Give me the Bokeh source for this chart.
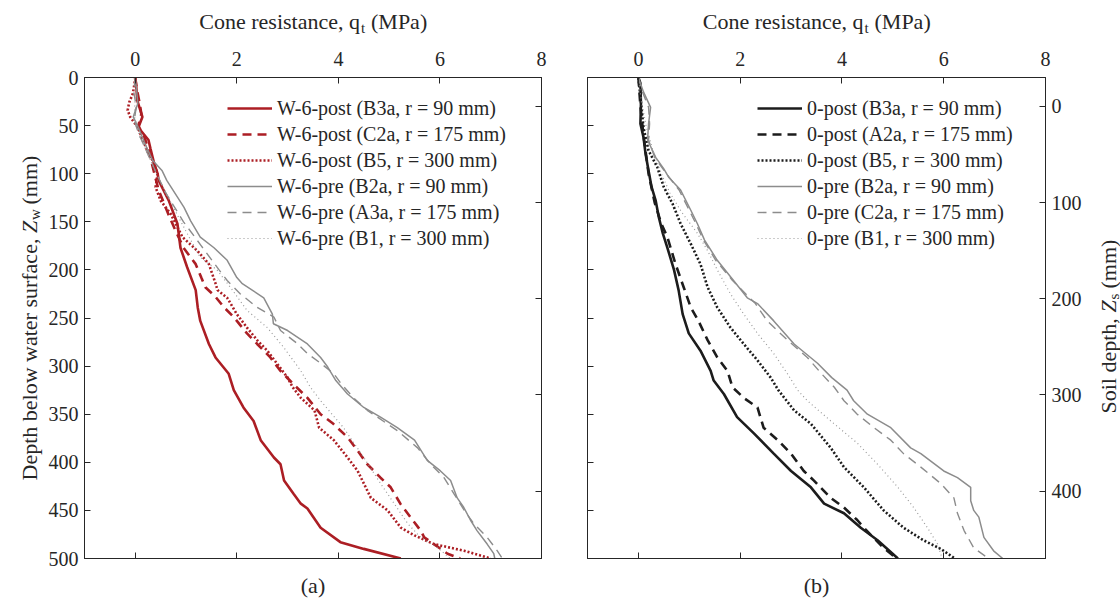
from bokeh.plotting import figure
from bokeh.models import Range1d, LinearAxis, FixedTicker, Label, Legend
from bokeh.layouts import row, column
from bokeh.embed import file_html
from bokeh.resources import INLINE

# ---------------- data (depth below water surface Zw in mm, cone resistance qt in MPa)
wpost_b3a_z = [0, 10, 24, 41, 52, 65, 74, 89, 100, 107, 128, 152, 177, 197, 221, 239, 253, 277, 291, 308, 325, 343, 357, 377, 395, 402, 419, 433, 443, 448, 468, 483, 490, 500]
wpost_b3a_q = [0, 0.02, 0.04, 0.14, 0.06, 0.26, 0.3, 0.37, 0.44, 0.46, 0.66, 0.83, 0.89, 1.02, 1.19, 1.23, 1.28, 1.45, 1.58, 1.84, 1.94, 2.13, 2.33, 2.47, 2.73, 2.86, 2.93, 3.12, 3.26, 3.39, 3.65, 4.04, 4.5, 5.23]

wpost_c2a_z = [0, 12, 25, 38, 50, 62, 75, 90, 105, 117, 142, 160, 177, 194, 208, 218, 228, 239, 249, 266, 277, 291, 305, 318, 333, 350, 360, 374, 388, 402, 416, 426, 443, 457, 471, 478, 485, 495, 500]
wpost_c2a_q = [0, 0.03, 0.08, 0.12, 0.06, 0.18, 0.26, 0.33, 0.4, 0.46, 0.65, 0.8, 0.95, 1.19, 1.3, 1.38, 1.58, 1.75, 1.94, 2.2, 2.4, 2.66, 2.86, 3.1, 3.39, 3.65, 3.9, 4.18, 4.38, 4.57, 4.83, 5.03, 5.22, 5.42, 5.62, 5.69, 5.88, 6.15, 6.4]

wpost_b5_z = [0, 8, 17, 26, 34, 41, 52, 65, 79, 86, 100, 114, 128, 142, 166, 180, 194, 214, 221, 229, 246, 260, 273, 284, 298, 312, 322, 333, 346, 364, 377, 395, 409, 437, 450, 468, 476, 485, 492, 500]
wpost_b5_q = [0, -0.02, -0.05, -0.12, -0.15, -0.1, 0.05, 0.15, 0.26, 0.34, 0.44, 0.4, 0.5, 0.7, 0.93, 1.22, 1.45, 1.58, 1.62, 1.81, 2.0, 2.2, 2.4, 2.6, 2.8, 3.0, 3.1, 3.26, 3.53, 3.62, 3.91, 4.18, 4.38, 4.64, 4.97, 5.23, 5.5, 5.88, 6.48, 7.0]

wpre_b2a_z = [0, 10, 27, 41, 52, 70, 86, 97, 107, 121, 135, 149, 166, 177, 190, 208, 214, 229, 246, 256, 263, 277, 291, 301, 315, 329, 343, 353, 364, 377, 398, 409, 419, 437, 447, 460, 471, 485, 495, 500]
wpre_b2a_q = [0, 0.02, 0.05, -0.04, 0.06, 0.2, 0.34, 0.53, 0.62, 0.79, 0.96, 1.09, 1.28, 1.55, 1.81, 2.0, 2.1, 2.53, 2.7, 2.72, 3.0, 3.39, 3.65, 3.79, 3.95, 4.18, 4.5, 4.83, 5.16, 5.5, 5.75, 6.01, 6.21, 6.34, 6.47, 6.6, 6.73, 6.93, 7.06, 7.08]

wpre_a3a_z = [0, 15, 30, 45, 60, 80, 100, 120, 150, 175, 200, 211, 225, 239, 249, 263, 277, 287, 297, 308, 318, 333, 346, 367, 385, 402, 416, 433, 450, 464, 478, 492, 500]
wpre_a3a_q = [0, -0.03, 0.02, -0.02, 0.08, 0.25, 0.42, 0.6, 0.95, 1.3, 1.65, 1.81, 2.07, 2.4, 2.73, 2.86, 3.2, 3.39, 3.65, 3.91, 4.05, 4.3, 4.57, 5.16, 5.56, 5.82, 6.08, 6.28, 6.48, 6.67, 6.93, 7.13, 7.23]

wpre_b1_z = [0, 20, 40, 60, 80, 100, 120, 140, 160, 187, 200, 220, 242, 260, 281, 305, 322, 336, 364, 395, 422, 443, 464, 478, 489, 500]
wpre_b1_q = [0, 0.0, -0.02, 0.08, 0.25, 0.42, 0.6, 0.8, 1.0, 1.28, 1.61, 1.9, 2.2, 2.6, 2.93, 3.26, 3.45, 3.65, 4.1, 4.5, 4.83, 5.1, 5.37, 5.62, 5.96, 6.2]

zpost_b3a_z = [0, 6, 27, 48, 62, 79, 97, 114, 128, 145, 162, 177, 200, 221, 246, 266, 284, 305, 315, 329, 353, 370, 391, 409, 426, 443, 453, 468, 481, 500]
zpost_b3a_q = [0, 0.04, 0.05, 0.04, 0.1, 0.14, 0.2, 0.26, 0.34, 0.4, 0.48, 0.57, 0.7, 0.79, 0.87, 0.99, 1.22, 1.42, 1.48, 1.68, 1.94, 2.27, 2.66, 3.0, 3.39, 3.65, 4.04, 4.37, 4.7, 5.1]

zpost_a2a_z = [0, 15, 30, 60, 100, 130, 152, 166, 194, 218, 239, 253, 273, 291, 305, 322, 333, 343, 364, 377, 391, 409, 419, 437, 447, 460, 468, 489, 500]
zpost_a2a_q = [0, 0.02, 0.04, 0.1, 0.2, 0.32, 0.45, 0.57, 0.73, 0.89, 1.03, 1.18, 1.36, 1.55, 1.75, 1.85, 2.07, 2.34, 2.46, 2.74, 3.0, 3.25, 3.45, 3.78, 4.04, 4.3, 4.43, 4.82, 5.08]

zpost_b5_z = [0, 20, 52, 76, 93, 114, 131, 152, 173, 194, 218, 239, 260, 277, 294, 312, 325, 346, 360, 385, 405, 426, 450, 468, 481, 490, 500]
zpost_b5_q = [0, 0.04, 0.1, 0.2, 0.37, 0.5, 0.67, 0.83, 1.03, 1.22, 1.36, 1.55, 1.81, 2.07, 2.34, 2.6, 2.75, 3.06, 3.39, 3.78, 4.04, 4.43, 4.82, 5.21, 5.6, 5.94, 6.22]

zpre_b2a_z = [0, 15, 31, 48, 65, 83, 95, 104, 117, 138, 152, 169, 190, 211, 229, 235, 253, 277, 297, 312, 325, 336, 350, 364, 385, 391, 409, 416, 426, 440, 450, 457, 478, 492, 500]
zpre_b2a_q = [0, 0.1, 0.24, 0.2, 0.18, 0.34, 0.5, 0.6, 0.83, 1.03, 1.16, 1.3, 1.55, 1.87, 2.14, 2.34, 2.66, 3.06, 3.52, 3.8, 4.1, 4.23, 4.5, 4.96, 5.35, 5.55, 6.0, 6.27, 6.53, 6.53, 6.59, 6.69, 6.79, 6.98, 7.16]

zpre_c2a_z = [0, 15, 31, 48, 65, 83, 100, 117, 138, 152, 169, 190, 211, 235, 253, 273, 291, 308, 322, 336, 350, 364, 377, 391, 405, 422, 437, 453, 471, 489, 500]
zpre_c2a_q = [0, 0.08, 0.2, 0.22, 0.2, 0.32, 0.55, 0.8, 1.0, 1.13, 1.28, 1.52, 1.85, 2.3, 2.53, 2.93, 3.32, 3.6, 3.85, 4.04, 4.3, 4.63, 4.96, 5.21, 5.55, 5.94, 6.2, 6.27, 6.4, 6.59, 6.88]

zpre_b1_z = [0, 25, 50, 75, 100, 120, 140, 162, 180, 200, 225, 246, 266, 287, 308, 325, 336, 357, 380, 402, 426, 447, 468, 485, 495, 500]
zpre_b1_q = [0, 0.06, 0.15, 0.28, 0.45, 0.62, 0.85, 1.16, 1.36, 1.55, 1.81, 2.07, 2.34, 2.66, 2.93, 3.13, 3.32, 3.78, 4.3, 4.7, 5.1, 5.41, 5.68, 5.88, 5.94, 5.97]

left_labels = ["W-6-post (B3a, r = 90 mm)", "W-6-post (C2a, r = 175 mm)", "W-6-post (B5, r = 300 mm)",
               "W-6-pre (B2a, r = 90 mm)", "W-6-pre (A3a, r = 175 mm)", "W-6-pre (B1, r = 300 mm)"]
right_labels = ["0-post (B3a, r = 90 mm)", "0-post (A2a, r = 175 mm)", "0-post (B5, r = 300 mm)",
                "0-pre (B2a, r = 90 mm)", "0-pre (C2a, r = 175 mm)", "0-pre (B1, r = 300 mm)"]

x_ticks = [0, 2, 4, 6, 8]
zw_ticks = [0, 50, 100, 150, 200, 250, 300, 350, 400, 450, 500]
zs_ticks = [0, 100, 200, 300, 400]
ZS_OFFSET = 30  # soil surface lies 30 mm below water surface

# ---------------- style / layout
FONT = "Liberation Serif"
AX = "#262626"
RED = "#AC1E24"
BLACK = "#1C1C1C"
GRAY = "#8C8C8C"
GRAY_DOT = "#9A9A9A"
FW1, FW2, FH = 457, 458, 481
TOP_H, BOT_H = 40, 34
P_TOP, P_BOT = 37, 12
YL_W, YR_W = 44, 33
P1_L, P1_R = 40, 23
P2_L, P2_R = 23, 42
TOTAL_H = TOP_H + P_TOP + FH + P_BOT + BOT_H
MID_W = P1_L + FW1 + P1_R + P2_L + FW2 + P2_R
HALF = 1.5707963267948966


def make_fig(fw, left_border, right_border, labeled_left):
    p = figure(frame_width=fw, frame_height=FH, x_range=Range1d(-1, 8), y_range=Range1d(500, 0),
               x_axis_location="above", y_axis_location="left",
               min_border_left=left_border, min_border_right=right_border,
               min_border_top=P_TOP, min_border_bottom=P_BOT,
               output_backend="svg", toolbar_location=None)
    p.extra_y_ranges = {"zs": Range1d(500 - ZS_OFFSET, -ZS_OFFSET)}
    p.grid.grid_line_color = None
    p.outline_line_color = AX
    p.background_fill_color = "white"
    p.border_fill_color = "white"

    def style(ax, labeled):
        ax.axis_line_color = AX
        ax.axis_line_width = 1
        ax.major_tick_line_color = AX
        ax.major_tick_in = 6
        ax.major_tick_out = 0
        ax.minor_tick_line_color = None
        ax.major_label_text_font = FONT
        ax.major_label_text_color = AX
        if labeled:
            ax.major_label_text_font_size = "20px"
        else:
            ax.major_label_text_font_size = "1px"
            ax.major_label_text_alpha = 0
            ax.major_label_standoff = 0

    top = p.xaxis[0]
    top.ticker = FixedTicker(ticks=x_ticks)
    style(top, True)
    top.major_label_standoff = 12

    bottom = LinearAxis(ticker=FixedTicker(ticks=x_ticks))
    style(bottom, False)
    bottom.major_label_overrides = {t: "" for t in x_ticks}
    p.add_layout(bottom, "below")

    left = p.yaxis[0]
    left.ticker = FixedTicker(ticks=zw_ticks)
    style(left, labeled_left)
    if labeled_left:
        left.major_label_standoff = 6
    else:
        left.major_label_overrides = {t: "" for t in zw_ticks}

    right = LinearAxis(y_range_name="zs", ticker=FixedTicker(ticks=zs_ticks))
    style(right, not labeled_left)
    if labeled_left:
        right.major_label_overrides = {t: "" for t in zs_ticks}
    else:
        right.major_label_standoff = 6
    p.add_layout(right, "right")
    return p


def band(w, h):
    f = figure(width=w, height=h, x_range=Range1d(0, w), y_range=Range1d(0, h),
               x_axis_location=None, y_axis_location=None, min_border=0,
               output_backend="svg", toolbar_location=None)
    f.outline_line_color = None
    f.grid.visible = False
    f.background_fill_color = "white"
    f.border_fill_color = "white"
    return f


def lab(p, text, x, y, size="22px", align="left", angle=0.0, style="normal"):
    p.add_layout(Label(x=x, y=y, x_units="screen", y_units="screen", text=text, angle=angle,
                       text_font=FONT, text_font_size=size, text_color=AX, text_align=align,
                       text_baseline="alphabetic", text_font_style=style))


def legend(p, renderers, labels, x, y):
    lg = Legend(items=[(l, [r]) for l, r in zip(labels, renderers)], location=(x, y),
                label_text_font=FONT, label_text_font_size="20px", label_text_color=AX,
                glyph_width=45, glyph_height=26, label_height=26, label_standoff=5,
                spacing=0, padding=0, margin=0,
                border_line_color=None, background_fill_alpha=0)
    p.add_layout(lg)


# ---------------- left panel
p1 = make_fig(FW1, P1_L, P1_R, True)
r1 = [
    p1.line(wpost_b3a_q, wpost_b3a_z, line_color=RED, line_width=2.6),
    p1.line(wpost_c2a_q, wpost_c2a_z, line_color=RED, line_width=2.6, line_dash="9 6"),
    p1.line(wpost_b5_q, wpost_b5_z, line_color=RED, line_width=2.6, line_dash="2 2"),
    p1.line(wpre_b2a_q, wpre_b2a_z, line_color=GRAY, line_width=1.5),
    p1.line(wpre_a3a_q, wpre_a3a_z, line_color=GRAY, line_width=1.4, line_dash="9 6"),
    p1.line(wpre_b1_q, wpre_b1_z, line_color=GRAY_DOT, line_width=1.2, line_dash="1 3"),
]
legend(p1, r1, left_labels, 143, 307)

# ---------------- right panel
p2 = make_fig(FW2, P2_L, P2_R, False)
r2 = [
    p2.line(zpost_b3a_q, zpost_b3a_z, line_color=BLACK, line_width=2.6),
    p2.line(zpost_a2a_q, zpost_a2a_z, line_color=BLACK, line_width=2.6, line_dash="9 6"),
    p2.line(zpost_b5_q, zpost_b5_z, line_color=BLACK, line_width=2.6, line_dash="2 2"),
    p2.line(zpre_b2a_q, zpre_b2a_z, line_color=GRAY, line_width=1.5),
    p2.line(zpre_c2a_q, zpre_c2a_z, line_color=GRAY, line_width=1.4, line_dash="9 6"),
    p2.line(zpre_b1_q, zpre_b1_z, line_color=GRAY_DOT, line_width=1.2, line_dash="1 3"),
]
legend(p2, r2, right_labels, 170, 307)

# ---------------- title bands (texts live here so they are not clipped by the plot frames)
c1 = P1_L + FW1 / 2
c2 = P1_L + FW1 + P1_R + P2_L + FW2 / 2
top_band = band(MID_W, TOP_H)
bot_band = band(MID_W, BOT_H)
for c, tag in ((c1, "(a)"), (c2, "(b)")):
    lab(top_band, "Cone resistance, q", c + 47, 19, align="right")
    lab(top_band, "t", c + 48, 13, size="15px")
    lab(top_band, "(MPa)", c + 58, 19)
    lab(bot_band, tag, c, 19, align="center")

yl = band(YL_W, TOTAL_H)
lab(yl, "Depth below water surface,", 29, 124, angle=HALF)
lab(yl, "Z", 29, 371.5, angle=HALF, style="italic")
lab(yl, "w", 34, 384.5, size="15px", angle=HALF)
lab(yl, "(mm)", 29, 400, angle=HALF)

yr = band(YR_W, TOTAL_H)
lab(yr, "Soil depth,", 21, 191, angle=HALF)
lab(yr, "Z", 21, 292, angle=HALF, style="italic")
lab(yr, "s", 26, 305, size="15px", angle=HALF)
lab(yr, "(mm)", 21, 316, angle=HALF)

layout = row(yl, column(top_band, row(p1, p2), bot_band), yr)
open("out.html", "w").write(file_html(layout, INLINE))
